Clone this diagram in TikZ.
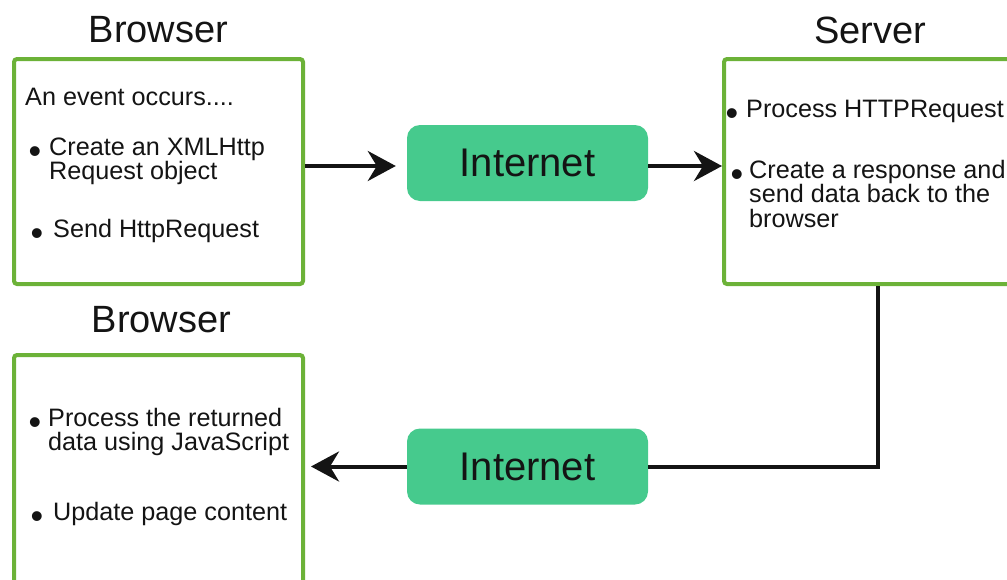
\documentclass[tikz,border=0pt]{standalone}
\usepackage{fontspec}
\setmainfont{Liberation Sans}
\usetikzlibrary{arrows.meta}
\definecolor{boxgreen}{RGB}{108,178,56}
\definecolor{netgreen}{RGB}{70,202,141}
\definecolor{ink}{RGB}{20,20,20}
\begin{document}
\begin{tikzpicture}[x=1pt,y=-1pt,
  panel/.style={draw=boxgreen,line width=4pt,rounded corners=3pt,fill=white,inner sep=0pt},
  net/.style={fill=netgreen,rounded corners=13pt,minimum width=241pt,minimum height=76pt,inner sep=0pt,
     text=ink,font=\fontsize{40}{44}\selectfont},
  title/.style={anchor=base,inner sep=0pt,text=ink,font=\fontsize{38}{42}\selectfont},
  txt/.style={anchor=base west,inner sep=0pt,text=ink,font=\fontsize{25.2}{24.6}\selectfont},
  bul/.style={anchor=base,inner sep=0pt,text=ink,font=\fontsize{36}{38}\selectfont},
  conn/.style={line width=4pt,draw=ink},
  arr/.style={conn,-{Stealth[length=28pt,width=30pt,inset=9pt]}}]
\useasboundingbox (0,0) rectangle (1007,579);
\clip (0,0) rectangle (1007,579);
% titles
\node[title] (tb1) at (158.5,42) {Browser};
\node[title] (ts) at (870,43) {Server};
\node[title] (tb2) at (161.5,332) {Browser};
% boxes
\node[panel,minimum width=289pt,minimum height=225pt] (box1) at (158.5,171.5) {};
\node[panel,minimum width=290pt,minimum height=225pt] (box2) at (869,171.5) {};
\node[panel,minimum width=289pt,minimum height=243pt] (box3) at (158.5,476.5) {};
% internet nodes
\node[net] (int1) at (527.5,163) {Internet};
\node[net] (int2) at (527.5,466.5) {Internet};
% box1 text
\node[txt] (t1) at (25,105) {An event occurs....};
\node[bul] (bu1) at (35,159.5) {\raisebox{-4.3pt}{•}};
\node[txt] (t2) at (49,155) {\vtop{\hbox{Create an XMLHttp}\hbox{Request object}}};
\node[bul] (bu2) at (37,241.5) {\raisebox{-4.3pt}{•}};
\node[txt] (t4) at (53,237) {Send HttpRequest};
% box2 text
\node[bul] (bu3) at (732,121.5) {\raisebox{-4.3pt}{•}};
\node[txt] (t5) at (746,117) {Process HTTPRequest};
\node[bul] (bu4) at (737,182.5) {\raisebox{-4.3pt}{•}};
\node[txt] (t6) at (749,178) {\vtop{\hbox{Create a response and}\hbox{send data back to the}\hbox{browser}}};
% box3 text
\node[bul] (bu5) at (35,430.5) {\raisebox{-4.3pt}{•}};
\node[txt] (t9) at (48,426) {\vtop{\hbox{Process the returned}\hbox{data using JavaScript}}};
\node[bul] (bu6) at (37,524.5) {\raisebox{-4.3pt}{•}};
\node[txt] (t11) at (53,520) {Update page content};
% connectors
\draw[arr,shorten >=11pt] ([yshift=-3pt]box1.east |- int1.west) -- ([yshift=-3pt]int1.west);
\draw[arr] ([yshift=-3pt]int1.east) -- ([yshift=-3pt]int1.east -| box2.west);
\draw[conn] ([xshift=9pt]box2.south) |- (int2.east);
\draw[arr,shorten >=6pt] (int2.west) -- (int2.west -| box3.east);
\end{tikzpicture}
\end{document}
